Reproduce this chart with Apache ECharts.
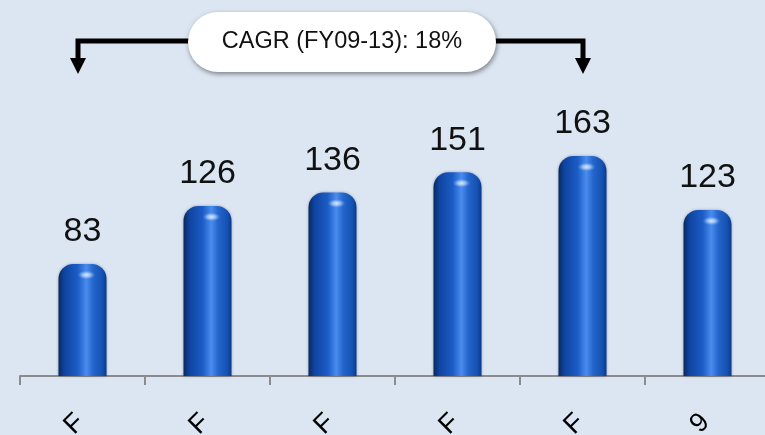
<!DOCTYPE html>
<html>
<head>
<meta charset="utf-8">
<script src="https://cdn.jsdelivr.net/npm/echarts@6/dist/echarts.min.js"></script>
<style>
html,body{margin:0;padding:0;background:#dce6f2;}
#main{width:765px;height:435px;}
</style>
</head>
<body>
<div id="main"></div>
<script>
// ---- data ----
const categories = ['FY09', 'FY10', 'FY11', 'FY12', 'FY13', '9MFY14'];
const revenue = [83, 126, 136, 151, 163, 123];
const cagrText = 'CAGR (FY09-13): 18%';
const cagrFrom = 0;   // index of FY09
const cagrTo = 4;     // index of FY13

const chart = echarts.init(document.getElementById('main'), null, {renderer: 'canvas'});

const barGradient = new echarts.graphic.LinearGradient(0, 0, 1, 0, [
  {offset: 0, color: '#08285e'},
  {offset: 0.12, color: '#0f44a0'},
  {offset: 0.4, color: '#1c5cc6'},
  {offset: 0.58, color: '#4a8cee'},
  {offset: 0.72, color: '#2466cc'},
  {offset: 0.92, color: '#1450b0'},
  {offset: 1, color: '#0b3884'}
]);

const highlight = new echarts.graphic.RadialGradient(0.5, 0.5, 0.5, [
  {offset: 0, color: 'rgba(255,255,255,1)'},
  {offset: 0.45, color: 'rgba(210,235,255,0.75)'},
  {offset: 1, color: 'rgba(120,170,240,0)'}
]);

chart.setOption({
  backgroundColor: '#dce6f2',
  animation: false,
  grid: {left: 20, right: -5, top: 106, bottom: 59, containLabel: false, outerBoundsMode: 'none'},
  xAxis: {
    type: 'category',
    data: categories,
    boundaryGap: true,
    axisLine: {show: true, lineStyle: {color: '#8c8c8c', width: 2}},
    axisTick: {show: true, length: 9, lineStyle: {color: '#8c8c8c', width: 2}},
    axisLabel: {
      interval: 0,
      rotate: 45,
      align: 'right',
      verticalAlign: 'top',
      margin: 9,
      padding: [0, 25, 0, 0],
      lineHeight: 44,
      fontSize: 27,
      color: '#000',
      fontFamily: 'Liberation Sans, Arial, sans-serif',
      formatter: v => v.split('').join('\n')
    }
  },
  yAxis: {
    type: 'value', min: 0, max: 200, show: false,
    splitLine: {show: false}
  },
  series: [
    {
      type: 'bar',
      data: revenue,
      barWidth: 48,
      itemStyle: {
        color: barGradient,
        borderRadius: [15, 15, 0, 0],
        shadowColor: 'rgba(0,20,60,0.35)',
        shadowBlur: 3
      },
      label: {
        show: true,
        position: 'top',
        distance: 15,
        fontSize: 34,
        color: '#111',
        fontFamily: 'Liberation Sans, Arial, sans-serif'
      },
      z: 2
    },
    {
      type: 'scatter',
      data: revenue,
      symbol: 'circle',
      symbolSize: [18, 9],
      symbolOffset: [4, 11],
      itemStyle: {color: highlight},
      silent: true,
      z: 3
    }
  ]
});

function drawCallout() {
  const xl = chart.convertToPixel({xAxisIndex: 0}, cagrFrom) - 4.5;
  const xr = chart.convertToPixel({xAxisIndex: 0}, cagrTo) + 0.5;
  const yLine = 41, yStemEnd = 60, yTip = 74, head = 8;
  const pillL = 188, pillR = 496, pillT = 12, pillB = 72;
  const lineStyle = {stroke: '#000', lineWidth: 5, fill: null, lineJoin: 'miter'};
  chart.setOption({
    graphic: [
      {type: 'polyline', shape: {points: [[pillL + 10, yLine], [xl, yLine], [xl, yStemEnd]]}, style: lineStyle, z: 10},
      {type: 'polygon', shape: {points: [[xl - head, yStemEnd - 2], [xl + head, yStemEnd - 2], [xl, yTip]]}, style: {fill: '#000'}, z: 10},
      {type: 'polyline', shape: {points: [[pillR - 10, yLine], [xr, yLine], [xr, yStemEnd]]}, style: lineStyle, z: 10},
      {type: 'polygon', shape: {points: [[xr - head, yStemEnd - 2], [xr + head, yStemEnd - 2], [xr, yTip]]}, style: {fill: '#000'}, z: 10},
      {
        type: 'rect',
        shape: {x: pillL, y: pillT, width: pillR - pillL, height: pillB - pillT, r: 30},
        style: {fill: '#fff', shadowColor: 'rgba(0,0,0,0.45)', shadowBlur: 5, shadowOffsetX: 1, shadowOffsetY: 2},
        z: 11
      },
      {
        type: 'text',
        x: (pillL + pillR) / 2, y: (pillT + pillB) / 2,
        style: {
          text: cagrText, fill: '#111', fontSize: 23.5,
          fontFamily: 'Liberation Sans, Arial, sans-serif',
          align: 'center', verticalAlign: 'middle'
        },
        z: 12
      }
    ]
  });
}
drawCallout();
</script>
</body>
</html>
